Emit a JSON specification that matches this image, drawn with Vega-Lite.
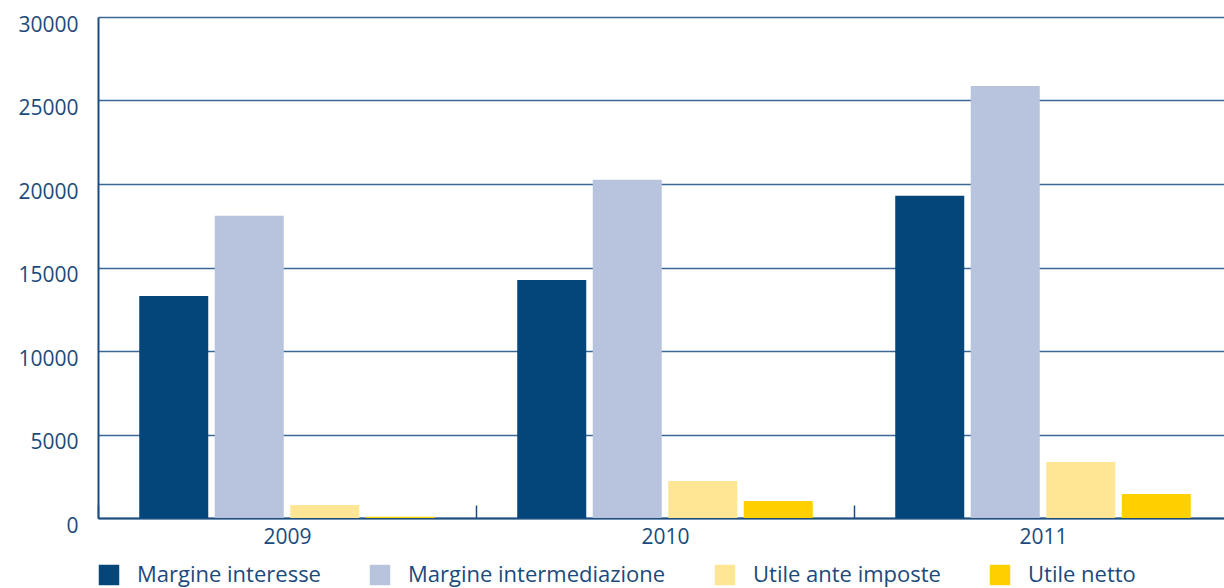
{
  "$schema": "https://vega.github.io/schema/vega-lite/v6.json",
  "autosize": "none",
  "width": 1134,
  "height": 501,
  "padding": {"left": 98, "top": 17, "right": 0, "bottom": 70},
  "background": "white",
  "config": {
    "view": {"stroke": null},
    "font": "Open Sans",
    "axis": {"labelFont": "Open Sans", "labelColor": "#1b4a7c"},
    "legend": {"labelFont": "Open Sans"}
  },
  "data": {
    "values": [
      {"anno": "2009", "voce": "Margine interesse", "valore": 13300},
      {"anno": "2009", "voce": "Margine intermediazione", "valore": 18100},
      {"anno": "2009", "voce": "Utile ante imposte", "valore": 780},
      {"anno": "2009", "voce": "Utile netto", "valore": 80},
      {"anno": "2010", "voce": "Margine interesse", "valore": 14250},
      {"anno": "2010", "voce": "Margine intermediazione", "valore": 20250},
      {"anno": "2010", "voce": "Utile ante imposte", "valore": 2220},
      {"anno": "2010", "voce": "Utile netto", "valore": 1020},
      {"anno": "2011", "voce": "Margine interesse", "valore": 19300},
      {"anno": "2011", "voce": "Margine intermediazione", "valore": 25870},
      {"anno": "2011", "voce": "Utile ante imposte", "valore": 3350},
      {"anno": "2011", "voce": "Utile netto", "valore": 1440}
    ]
  },
  "mark": {"type": "bar"},
  "encoding": {
    "x": {
      "field": "anno",
      "type": "nominal",
      "scale": {"paddingInner": 0, "paddingOuter": 0},
      "axis": {
        "title": null,
        "labelAngle": 0,
        "labelFontSize": 21,
        "labelColor": "#1b4a7c",
        "labelPadding": 21,
        "domainColor": "#1d4d7e",
        "domainWidth": 2,
        "tickBand": "extent",
        "tickSize": -13,
        "tickColor": "#1d4d7e",
        "tickWidth": 1.5,
        "grid": false
      }
    },
    "xOffset": {
      "field": "voce",
      "type": "nominal",
      "sort": ["Margine interesse", "Margine intermediazione", "Utile ante imposte", "Utile netto"],
      "scale": {"paddingInner": 0.086, "paddingOuter": 0.546}
    },
    "y": {
      "field": "valore",
      "type": "quantitative",
      "scale": {"domain": [0, 30000], "nice": false},
      "axis": {
        "title": null,
        "values": [0, 5000, 10000, 15000, 20000, 25000, 30000],
        "format": "d",
        "labelFontSize": 21,
        "labelColor": "#1b4a7c",
        "labelPadding": 20,
        "labelOffset": 8,
        "ticks": false,
        "domainColor": "#1d4d7e",
        "domainWidth": 2,
        "grid": true,
        "gridColor": "#3a6794",
        "gridWidth": 1.5,
        "gridOpacity": 1
      }
    },
    "color": {
      "field": "voce",
      "type": "nominal",
      "sort": ["Margine interesse", "Margine intermediazione", "Utile ante imposte", "Utile netto"],
      "scale": {
        "domain": ["Margine interesse", "Margine intermediazione", "Utile ante imposte", "Utile netto"],
        "range": ["#04457a", "#b8c4dd", "#fee694", "#ffd000"]
      },
      "legend": {
        "title": null,
        "orient": "none",
        "legendX": 0,
        "legendY": 547,
        "direction": "horizontal",
        "columns": 4,
        "symbolType": "square",
        "symbolSize": 420,
        "symbolStrokeWidth": 0,
        "symbolOpacity": 1,
        "labelFontSize": 22,
        "labelColor": "#1b4a7c",
        "labelOffset": 17,
        "columnPadding": 48,
        "labelLimit": 400
      }
    }
  }
}
